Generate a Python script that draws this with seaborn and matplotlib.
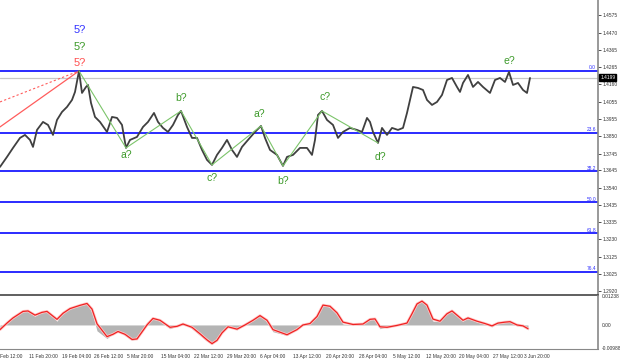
import seaborn as sns
import matplotlib.pyplot as plt
import matplotlib.patheffects as pe
import pandas as pd

# price closes (bar index ~ one px per H4 bar)
bar_x = [0, 7, 13, 20, 25, 30, 33, 37, 43, 48, 53, 57, 62, 67, 72, 75, 79, 82, 86, 88,
         91, 95, 100, 107, 112, 117, 122, 126, 130, 137, 143, 148, 154, 158, 163, 168, 173, 178, 181, 187,
         192, 197, 202, 207, 212, 217, 222, 227, 232, 237, 242, 248, 255, 261, 265, 270, 277, 283, 287, 293,
         300, 307, 312, 315, 318, 322, 327, 333, 338, 343, 350, 357, 362, 367, 370, 373, 378, 382, 387, 392,
         398, 403, 407, 410, 413, 418, 423, 427, 432, 437, 442, 447, 452, 457, 460, 463, 468, 473, 478, 483,
         490, 495, 500, 505, 509, 513, 518, 523, 527, 530]
close = [1.3665, 1.3725, 1.3779, 1.3839, 1.3857, 1.3827, 1.3785, 1.3887, 1.3935, 1.3917, 1.3857, 1.3947, 1.3995, 1.4025, 1.4067, 1.4115, 1.4241, 1.4109, 1.4145, 1.4157,
         1.4049, 1.3965, 1.3935, 1.3875, 1.3965, 1.3959, 1.3917, 1.3779, 1.3827, 1.3845, 1.3905, 1.3935, 1.3989, 1.3935, 1.3899, 1.3875, 1.3917, 1.3977, 1.4001, 1.3905,
         1.3839, 1.3839, 1.3767, 1.3707, 1.3677, 1.3737, 1.3779, 1.3827, 1.3767, 1.3725, 1.3785, 1.3827, 1.3875, 1.3911, 1.3839, 1.3767, 1.3737, 1.3671, 1.3725, 1.3737,
         1.3779, 1.3779, 1.3737, 1.3827, 1.3977, 1.4001, 1.3947, 1.3917, 1.3839, 1.3875, 1.3899, 1.3887, 1.3875, 1.3959, 1.3935, 1.3875, 1.3809, 1.3899, 1.3857, 1.3899,
         1.3887, 1.3899, 1.3989, 1.4067, 1.4145, 1.4139, 1.4127, 1.4067, 1.4037, 1.4055, 1.4097, 1.4187, 1.4199, 1.4145, 1.4115, 1.4169, 1.4217, 1.4145, 1.4175, 1.4145,
         1.4109, 1.4187, 1.4199, 1.4175, 1.4235, 1.4157, 1.4169, 1.4127, 1.4109, 1.4199]

# MACD panel
macd_x = [0, 7, 13, 23, 28, 35, 42, 47, 57, 63, 70, 80, 87, 92, 97, 107, 113, 118, 125, 132,
          137, 147, 153, 160, 170, 177, 183, 192, 200, 207, 212, 217, 222, 228, 237, 245, 253, 260, 267, 273,
          287, 297, 303, 310, 317, 323, 330, 337, 343, 353, 363, 370, 375, 380, 387, 397, 407, 412, 417, 422,
          427, 433, 440, 447, 452, 457, 463, 468, 477, 485, 492, 498, 505, 510, 517, 523, 528]
macd_main = [-0.0016, 0.0016, 0.0037, 0.0062, 0.0058, 0.0037, 0.0058, 0.0058, 0.0016, 0.0058, 0.0074, 0.0087, 0.0091, 0.0054, -0.0025, -0.0058, -0.0037, -0.0025, -0.0045, -0.0066,
             -0.0058, 0.0012, 0.0033, 0.0016, -0.0016, -0.0004, 0.0008, -0.0016, -0.0045, -0.0070, -0.0082, -0.0058, -0.0025, -0.0004, -0.0021, 0.0004, 0.0025, 0.0041, 0.0012, -0.0029,
             -0.0045, -0.0016, 0.0004, 0.0008, 0.0045, 0.0091, 0.0074, 0.0045, 0.0004, 0.0000, 0.0004, 0.0029, 0.0025, -0.0016, -0.0008, 0.0000, 0.0012, 0.0058, 0.0099, 0.0103,
             0.0078, 0.0016, 0.0016, 0.0054, 0.0062, 0.0037, 0.0016, 0.0033, 0.0012, 0.0004, -0.0008, 0.0012, 0.0012, 0.0016, -0.0004, -0.0004, -0.0021]
macd_signal = [-0.0020, 0.0008, 0.0030, 0.0058, 0.0060, 0.0042, 0.0054, 0.0058, 0.0024, 0.0050, 0.0070, 0.0084, 0.0092, 0.0068, 0.0005, -0.0050, -0.0040, -0.0028, -0.0040, -0.0062,
               -0.0060, 0.0000, 0.0028, 0.0020, -0.0010, -0.0006, 0.0004, -0.0010, -0.0038, -0.0064, -0.0080, -0.0066, -0.0034, -0.0008, -0.0018, 0.0000, 0.0020, 0.0040, 0.0020, -0.0020,
               -0.0042, -0.0020, 0.0000, 0.0006, 0.0036, 0.0085, 0.0080, 0.0052, 0.0012, 0.0002, 0.0004, 0.0024, 0.0026, -0.0008, -0.0010, -0.0002, 0.0008, 0.0048, 0.0090, 0.0102,
               0.0085, 0.0025, 0.0016, 0.0048, 0.0060, 0.0042, 0.0020, 0.0030, 0.0016, 0.0006, -0.0004, 0.0008, 0.0012, 0.0014, 0.0000, -0.0004, -0.0016]

# wave markup
wave_x = [79, 126, 181, 212, 261, 283, 322, 378]
wave_p = [1.4241, 1.3779, 1.4001, 1.3677, 1.3911, 1.3671, 1.4001, 1.3809]
wave_labels = ["a?", "b?", "c?", "a?", "b?", "c?", "d?", "e?"]
wave_label_x = [126, 181, 212, 259, 283, 325, 380, 509]
wave_label_p = [1.3737, 1.4079, 1.3599, 1.3983, 1.3581, 1.4085, 1.3725, 1.4301]
top_labels = ["5?", "5?", "5?"]
top_label_p = [1.4487, 1.4385, 1.4289]
top_label_colors = ["#3232ff", "#3d9a2a", "#ff5050"]

fib_hi = 1.4241
fib_lo = 1.2664
fib_levels = [0.0, 23.6, 38.2, 50.0, 61.8, 76.4]
last_price = 1.4199

price_ticks = [1.4575, 1.4470, 1.4365, 1.4265, 1.4160, 1.4055, 1.3955, 1.3850, 1.3745,
               1.3645, 1.3540, 1.3435, 1.3335, 1.3230, 1.3125, 1.3025, 1.2920]
date_x = [29, 62, 94, 127, 161, 194, 227, 260, 293, 326, 359, 393, 426, 459, 493, 524]
date_labels = ["11 Feb 20:00", "19 Feb 04:00", "26 Feb 12:00", "5 Mar 20:00", "15 Mar 04:00",
               "22 Mar 12:00", "29 Mar 20:00", "6 Apr 04:00", "13 Apr 12:00", "20 Apr 20:00",
               "28 Apr 04:00", "5 May 12:00", "12 May 20:00", "20 May 04:00", "27 May 12:00", "3 Jun 20:00"]

sns.set_theme(style="white")
plt.rcParams['font.family'] = ['Liberation Sans', 'DejaVu Sans']

SMALL = 3.5
fig = plt.figure(figsize=(6.2, 3.61), dpi=100)
ax = fig.add_axes([0, 66 / 361, 598 / 620, 295 / 361])
ax2 = fig.add_axes([0, 12 / 361, 598 / 620, 53 / 361])

XMAX = 598
ax.set_xlim(0, XMAX)
ax.set_ylim(1.2896, 1.4667)

# fibo levels
span = fib_hi - fib_lo
for lv in fib_levels:
    p = fib_hi - span * lv / 100
    ax.axhline(p, color="#1a1aff", lw=1.3, zorder=2)
    ax.text(XMAX - 2, p + 0.0004, f"{lv:.1f}", color="#3030ff", fontsize=SMALL,
            ha="right", va="bottom")

ax.axhline(last_price, color="#c8c8c8", lw=0.9, zorder=1)

# earlier wave lines (red)
ax.plot([0, 79], [1.3905, 1.4241], color="#ff5c5c", lw=0.9, zorder=3)
ax.plot([0, 79], [1.4055, 1.4241], color="#ff5c5c", lw=0.8, ls=(0, (2, 2)), zorder=3)

df = pd.DataFrame({"bar": bar_x, "close": close})
sns.lineplot(data=df, x="bar", y="close", ax=ax, color="#404040", lw=1.3, zorder=4)

wdf = pd.DataFrame({"bar": wave_x, "p": wave_p})
sns.lineplot(data=wdf, x="bar", y="p", ax=ax, color="#7cc46a", lw=0.8, zorder=5)

for t, x, p in zip(wave_labels, wave_label_x, wave_label_p):
    ax.text(x, p, t, color="#3d9a2a", fontsize=7.5, ha="center", va="center")
for t, p, c in zip(top_labels, top_label_p, top_label_colors):
    ax.text(80, p, t, color=c, fontsize=8, ha="center", va="center")

ax.set_xlabel("")
ax.set_ylabel("")
ax.set_xticks([])
ax.yaxis.tick_right()
ax.set_yticks(price_ticks)
ax.set_yticklabels([f"{v:.4f}" for v in price_ticks])
ax.tick_params(axis="y", labelsize=SMALL, length=2, width=0.6, pad=1.5, colors="#333333", direction="out")
for s in ["top", "left"]:
    ax.spines[s].set_visible(False)
ax.spines["right"].set_color("#888888")
ax.spines["right"].set_linewidth(1.2)
ax.spines["bottom"].set_color("#444444")
ax.spines["bottom"].set_linewidth(1.2)

ax.text(1.004, last_price, f"{last_price:.4f}", transform=ax.get_yaxis_transform(),
        fontsize=SMALL, color="white", va="center", ha="left",
        bbox=dict(boxstyle="square,pad=0.2", fc="black", ec="black"))

# MACD panel
ax2.set_xlim(0, XMAX)
ax2.set_ylim(-0.0103, 0.0124)
ax2.fill_between(macd_x, 0, macd_main, color="#b4b4b4", lw=0, zorder=2)
mdf = pd.DataFrame({"bar": macd_x, "sig": macd_signal})
sns.lineplot(data=mdf, x="bar", y="sig", ax=ax2, color="#ee2222", lw=0.9, zorder=3,
             path_effects=[pe.Stroke(linewidth=2.0, foreground="#ffc8c8"), pe.Normal()])
ax2.set_xlabel("")
ax2.set_ylabel("")
ax2.yaxis.tick_right()
ax2.set_yticks([0.01238, 0.0, -0.00988])
ax2.set_yticklabels(["0.01238", "0.00", "-0.00988"])
ax2.tick_params(axis="y", labelsize=SMALL, length=0, pad=3, colors="#333333")
ax2.set_xticks(date_x)
ax2.set_xticklabels(date_labels, ha="left")
ax2.tick_params(axis="x", labelsize=SMALL, length=2, width=0.6, pad=1.5, colors="#333333", direction="out")
ax2.text(-4, -0.09, "4 Feb 12:00", fontsize=SMALL, color="#333333", ha="left", va="top",
         transform=ax2.get_xaxis_transform(), clip_on=False)
for s in ["top", "left"]:
    ax2.spines[s].set_visible(False)
ax2.spines["right"].set_color("#888888")
ax2.spines["right"].set_linewidth(1.2)
ax2.spines["bottom"].set_color("#888888")
ax2.spines["bottom"].set_linewidth(0.8)

fig.savefig("out.png", dpi=100)
